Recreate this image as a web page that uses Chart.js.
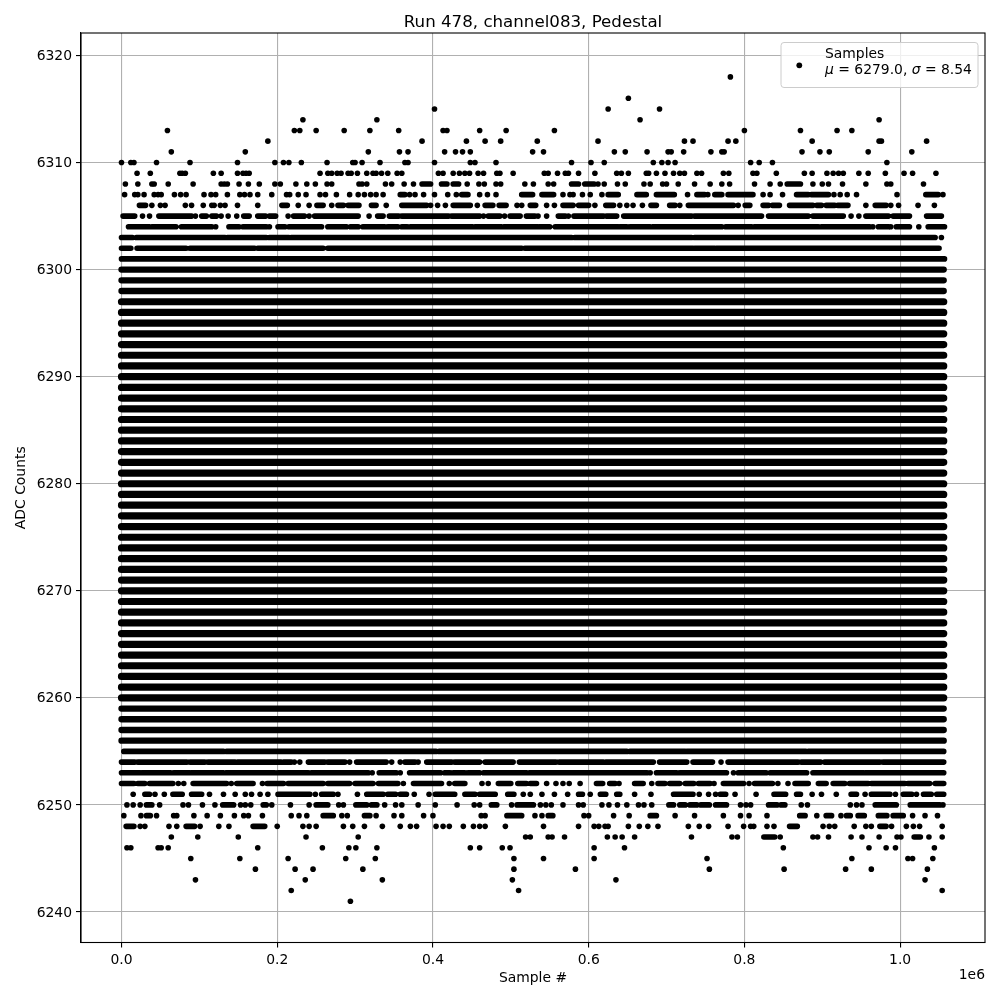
<!DOCTYPE html>
<html>
<head>
<meta charset="utf-8">
<title>Run 478, channel083, Pedestal</title>
<script src="https://cdn.jsdelivr.net/npm/chart.js@4"></script>
<style>
  html, body { margin: 0; padding: 0; background: white; }
  canvas { display: block; }
</style>
</head>
<body>
<canvas id="myChart" width="1000" height="1000"></canvas>
<script>
const xTicks = [0, 200000, 400000, 600000, 800000, 1000000];
const yTicks = [6240, 6250, 6260, 6270, 6280, 6290, 6300, 6310, 6320];

// levels where the samples form an unbroken band
const edgeLevels = [6300, 6299, 6298, 6259, 6258, 6257, 6256];
const solidLevels = [6297, 6296, 6295, 6294, 6293, 6292, 6291, 6290, 6289, 6288, 6287, 6286,
  6285, 6284, 6283, 6282, 6281, 6280, 6279, 6278, 6277, 6276, 6275, 6274, 6273, 6272, 6271, 6270, 6269, 6268,
  6267, 6266, 6265, 6264, 6263, 6262, 6261, 6260];
const solidRun = [0, 1056];

// the rest, in thousands of samples
// a plain number is one dot, a pair is a run of dots that touch
const rowLevels = [6318, 6316, 6315, 6314, 6313, 6312, 6311, 6310, 6309, 6308, 6307, 6306, 6305, 6304, 6303, 6302, 6301,
  6255, 6254, 6253, 6252, 6251, 6250, 6249, 6248, 6247, 6246, 6245, 6244, 6243, 6242, 6241];
const rowSamples = [
  [782],
  [651],
  [402, 625, 691],
  [233, 328, 666, 973],
  [59, 222, 229, 250, 286, 319, 356, 413, 418, 460, 494, 556, 800, 872, 919, 938],
  [188, 386, 443, 467, 487, 534, 612, 723, 734, 779, 789, 887, 973, 976, 1034],
  [64, 159, 317, 357, 368, 415, 429, 438, 448, 528, 542, 633, 647, 675, 702, 706, 722, 757, 771, 774, 874, 897, 909, 959, 1015],
  [0, 12, 16, 45, 88, 149, 197, 208, 215, 231, 264, 297, 300, 309, 332, 364, 368, 402, 448, 454, 481, 578, 603, 620, 683, 694, 702, 711, 808, 819, 836, 983],
  [20, 37, 75, 78, 82, 118, 128, 149, 156, 160, 164, 255, 265, 270, 277, 282, 291, 295, 303, 315, 323, 327, 334, 342, 354, 360, 407, 413, 426, 434, 441, 447, 458, 465, 482, 486, 503, 543, 548, 560, 570, 574, 587, 608, 636, 642, 651, 674, 677, 687, 698, 709, 717, 723, 739, 745, 773, 780, 811, 816, 841, 877, 887, 906, 914, 921, 927, 947, 959, 981, 1005, 1016, 1046],
  [5, 21, 39, 42, 60, 92, 128, 132, 136, 151, 163, 177, 197, 204, 224, 238, 249, 264, 270, 305, 309, 315, 339, 347, 363, 375, [386, 397], [411, 418], [426, 433], 444, 459, 466, 481, 487, 518, 529, 548, 555, [578, 587], [595, 607], 612, 620, 637, 647, 671, 679, 695, 700, 715, 736, 756, 771, 781, 813, 833, 846, [855, 872], 888, 900, 908, 926, 956, 983, 988, 1030],
  [4, 17, 21, 29, 42, 47, 51, 68, 76, 83, 106, 115, 121, 136, 152, 158, 165, 175, 193, 212, 216, 227, 237, 255, 262, 276, 293, 304, 312, 320, 327, 336, [358, 364], 370, 377, 388, 402, 419, 430, [437, 445], 460, 470, 481, [514, 528], [540, 555], 567, 576, 580, 592, 602, 617, [625, 638], [662, 674], [687, 710], 727, [739, 749], 753, [762, 771], [779, 811], 824, 833, 849, [867, 882], [886, 908], 915, 923, 932, 944, 996, [1033, 1049], 1055],
  [[23, 31], 39, 50, 56, 82, 90, 105, 116, 119, 127, 133, 149, 175, [206, 213], 227, 241, [251, 259], 270, [278, 285], [291, 305], [321, 327], 340, [360, 392], 397, 406, 416, [426, 448], 457, [467, 477], [485, 494], 508, 514, [525, 532], 546, 556, [567, 580], [587, 600], 608, [622, 632], 640, 649, 657, 669, [680, 687], [704, 711], 717, [728, 786], 792, [801, 807], [824, 831], [836, 845], [858, 888], [893, 899], [905, 916], [920, 933], 956, [968, 982], 988, 998, 1023, 1044],
  [[2, 17], 27, 36, [48, 90], 95, [103, 109], [116, 122], 128, 137, 148, [157, 164], [175, 185], [190, 198], 214, [221, 235], 241, [248, 304], 318, [329, 336], [344, 356], [360, 420], [424, 460], 465, [471, 486], 492, [499, 512], [520, 531], 535, 546, [561, 570], 574, [581, 619], [623, 636], [645, 732], [736, 822], [831, 882], [888, 927], 937, 947, [956, 985], [991, 1012], [1034, 1053]],
  [[9, 36], [39, 70], [77, 116], 121, [138, 151], [156, 186], 190, [201, 210], [215, 257], [265, 289], [294, 304], [310, 338], [342, 355], [360, 367], [371, 451], [454, 488], [491, 535], [537, 550], [557, 638], [640, 649], [653, 679], [682, 771], [776, 809], [813, 895], [899, 961], 965, [972, 985], 988, [995, 1012], 1024, [1036, 1057]],
  [[0, 14], [19, 133], [136, 186], [190, 215], [218, 578], [582, 732], [736, 1045], 1053],
  [[0, 12], [20, 83], [88, 171], [175, 259], [265, 514], [518, 734], [736, 762], [764, 1050]],
  [[0, 1057]],
  [[3, 131], [135, 404], [408, 649], [653, 724], [726, 879], [882, 1056]],
  [[0, 17], [21, 84], [88, 107], [111, 146], [149, 205], [208, 218], 222, 229, [240, 261], [265, 287], 293, [302, 340], 347, 358, [364, 377], 381, [392, 424], [428, 460], [467, 503], [511, 558], [562, 619], [622, 683], [691, 726], [734, 759], 770, [779, 869], [873, 898], [903, 974], [978, 1056]],
  [[0, 24], [26, 63], [67, 88], [90, 131], [134, 197], [201, 240], [244, 317], 322, [331, 353], 358, [370, 410], [415, 422], [426, 441], [445, 460], [465, 520], [524, 675], 679, [687, 713], [717, 777], 786, [792, 828], [833, 880], [888, 953], [955, 1056]],
  [[0, 16], [21, 30], [36, 66], 73, 80, [92, 135], 141, [148, 169], 181, [187, 208], [214, 259], [265, 293], [300, 323], [330, 355], 362, [375, 411], 421, [428, 441], 463, 471, [484, 500], [509, 520], [525, 533], 546, 558, 567, 575, 589, [610, 618], [627, 634], 639, [659, 670], 681, [689, 698], [704, 717], [724, 735], [741, 756], 761, [773, 799], 806, [813, 836], 843, 856, [865, 882], [895, 905], [914, 929], [935, 959], [963, 1006], [1010, 1038], [1045, 1056]],
  [15, [30, 36], 43, 55, [66, 78], [90, 103], 113, 131, 146, 159, 167, 178, 188, [201, 242], 249, [257, 272], 278, 303, [315, 336], [342, 352], [358, 366], 376, 395, [403, 428], [441, 454], [460, 480], [496, 504], 516, 525, 540, 556, 573, [587, 592], 602, [615, 622], [636, 640], 659, 680, [709, 734], 742, 754, 763, [769, 776], 788, 815, [838, 853], [867, 872], 887, 899, 918, [937, 944], 955, [963, 987], 994, [1004, 1015], 1021, [1030, 1040], [1047, 1056]],
  [7, 15, 24, [32, 39], 49, 79, 86, 104, 120, [130, 144], 153, 159, 166, [182, 186], 193, 217, 241, [250, 265], 279, 285, [301, 315], [321, 328], 338, 352, 360, 381, 403, 431, 453, 460, [475, 482], 501, [508, 529], 538, 545, 552, 567, 587, 593, 617, 626, 637, 649, 664, 671, 681, [703, 709], [717, 724], [730, 739], [744, 755], [763, 777], 795, 802, 808, [831, 842], [847, 852], 873, 881, 936, 944, 951, [968, 995], [1013, 1051], 1055],
  [3, 25, [32, 37], 45, 67, 71, 93, 110, 127, 145, 157, 163, 181, 218, 228, 238, [259, 272], 283, 290, [312, 319], 327, 350, 360, 388, 400, 462, 467, [495, 514], 531, 540, [548, 554], 594, 600, 632, 652, [679, 687], 711, 736, 773, 795, 806, 829, [871, 878], 893, [905, 912], 924, [931, 936], [946, 954], [972, 983], [991, 1004], 1016, 1032, 1048],
  [[6, 16], 24, 30, 61, 71, [83, 94], 101, 125, 138, [169, 184], 200, 233, 241, 250, 285, 297, 312, 335, 358, 371, 379, 404, 413, 421, 439, 452, 460, 467, 493, 542, 587, 607, 613, 621, 625, 651, 665, 676, 689, 728, 742, 754, 779, 799, 808, 812, 829, 838, [858, 868], 901, 909, 916, 941, 956, 963, [974, 982], 989, 1008, 1017, 1025, 1054],
  [64, 98, 150, 237, 304, 519, 525, 548, 553, 569, 624, 634, 643, 659, 732, 784, 791, [825, 839], 846, 888, 894, 908, 937, 951, 973, 996, 1001, [1018, 1026], 1037, 1054],
  [7, 12, 47, 51, 60, 175, 258, 292, 301, 328, 448, 460, 489, 499, 607, 646, 850, 960, 982, 994, 1044],
  [89, 152, 214, 288, 326, 504, 542, 607, 752, 938, 1010, 1016, 1042],
  [172, 223, 246, 310, 504, 583, 755, 851, 930, 963, 1035],
  [95, 236, 335, 502, 635, 1032],
  [218, 510, 1054],
  [294]
];

const dots = [];
const runs = [];
const edges = [];
const solids = [];

function addRun(list, from, to, level) {
  list.push({x: from * 1000, y: level}, {x: to * 1000, y: level}, {x: to * 1000, y: null});
}

rowLevels.forEach((level, i) => {
  rowSamples[i].forEach(s => {
    if (Array.isArray(s)) {
      addRun(runs, s[0], s[1], level);
    } else {
      dots.push({x: s * 1000, y: level});
    }
  });
});
edgeLevels.forEach(level => addRun(edges, solidRun[0], solidRun[1], level));
solidLevels.forEach(level => addRun(solids, solidRun[0], solidRun[1], level));

const FONT = '"DejaVu Sans"';
Chart.defaults.font.family = FONT;
Chart.defaults.font.size = 13.9;
Chart.defaults.color = 'black';

// top and right spines, the 1e6 offset and the legend with its italic mu and sigma
const extras = {
  id: 'extras',
  afterDraw(chart) {
    const ctx = chart.ctx;
    const a = chart.chartArea;
    ctx.save();
    ctx.strokeStyle = 'black';
    ctx.lineWidth = 1.1;
    ctx.strokeRect(a.left, a.top, a.right - a.left, a.bottom - a.top);

    ctx.fillStyle = 'black';
    ctx.font = '13.9px ' + FONT;
    ctx.textAlign = 'right';
    ctx.textBaseline = 'middle';
    ctx.fillText('1e6', 985, 975.5);

    ctx.beginPath();
    ctx.roundRect(781, 42.5, 197, 45, 3);
    ctx.fillStyle = 'rgba(255,255,255,0.8)';
    ctx.fill();
    ctx.strokeStyle = '#cccccc';
    ctx.lineWidth = 1;
    ctx.stroke();

    ctx.fillStyle = 'black';
    ctx.beginPath();
    ctx.arc(799.3, 65.3, 2.9, 0, Math.PI * 2);
    ctx.fill();

    ctx.textAlign = 'left';
    ctx.fillText('Samples', 825, 54.5);
    let x = 825;
    [['\u03BC', true], [' = 6279.0, ', false], ['\u03C3', true], [' = 8.54', false]].forEach(p => {
      ctx.font = (p[1] ? 'italic ' : '') + '13.9px ' + FONT;
      ctx.fillText(p[0], x, 70.5);
      x += ctx.measureText(p[0]).width;
    });
    ctx.restore();
  }
};

new Chart(document.getElementById('myChart').getContext('2d'), {
  type: 'scatter',
  data: {
    datasets: [
      {data: dots, showLine: false, pointRadius: 2.8, pointBorderWidth: 0, backgroundColor: 'black'},
      {data: runs, showLine: true, spanGaps: false, pointRadius: 0, borderColor: 'black', borderWidth: 5.6, borderCapStyle: 'round'},
      {data: edges, showLine: true, spanGaps: false, pointRadius: 0, borderColor: 'black', borderWidth: 6.3, borderCapStyle: 'round'},
      {data: solids, showLine: true, spanGaps: false, pointRadius: 0, borderColor: 'black', borderWidth: 7.2, borderCapStyle: 'round'}
    ]
  },
  options: {
    responsive: false,
    animation: false,
    layout: {padding: {left: 0, right: 15, top: 0, bottom: 0}},
    plugins: {
      legend: {display: false},
      tooltip: {enabled: false},
      title: {
        display: true,
        fullSize: false,
        text: 'Run 478, channel083, Pedestal',
        font: {size: 16.67, weight: 'normal'},
        color: 'black',
        padding: {top: 13, bottom: 0}
      }
    },
    scales: {
      x: {
        type: 'linear',
        min: -52000,
        max: 1109000,
        afterFit: s => { s.height = 57.5; },
        afterBuildTicks: s => { s.ticks = xTicks.map(v => ({value: v})); },
        title: {display: true, text: 'Sample #', padding: {top: 4, bottom: 13}},
        grid: {color: '#b0b0b0', lineWidth: 1.1, tickColor: 'black', tickLength: 5},
        border: {color: 'black', width: 1.1},
        ticks: {
          maxRotation: 0,
          padding: 5,
          callback: v => (v / 1e6).toFixed(1)
        }
      },
      y: {
        type: 'linear',
        min: 6237.15,
        max: 6322.1,
        afterFit: s => { s.width = 81; },
        afterBuildTicks: s => { s.ticks = yTicks.map(v => ({value: v})); },
        title: {display: true, text: 'ADC Counts', padding: {top: 13, bottom: 0}},
        grid: {color: '#b0b0b0', lineWidth: 1.1, tickColor: 'black', tickLength: 5},
        border: {color: 'black', width: 1.1},
        ticks: {
          padding: 4,
          labelOffset: 1,
          callback: v => String(v)
        }
      }
    }
  },
  plugins: [extras]
});
</script>
</body>
</html>
